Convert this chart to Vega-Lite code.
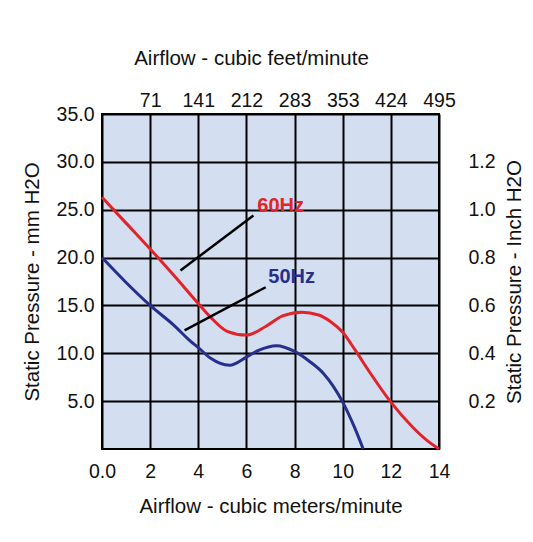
{
  "$schema": "https://vega.github.io/schema/vega-lite/v6.json",
  "width": 337,
  "height": 335,
  "autosize": "none",
  "padding": {"left": 102, "top": 114, "right": 94, "bottom": 93},
  "background": "white",
  "config": {
    "font": "Liberation Sans",
    "view": {"fill": "#d3dff0", "stroke": "black", "strokeWidth": 2},
    "axis": {
      "labelFont": "Liberation Sans",
      "titleFont": "Liberation Sans",
      "labelFontSize": 19.5,
      "titleFontSize": 20.5,
      "titleFontWeight": "normal",
      "labelColor": "#111111",
      "titleColor": "#111111",
      "ticks": false,
      "domain": false,
      "labelFlush": false
    }
  },
  "datasets": {
    "curves": [
      {"series": "60Hz", "airflow": 0, "pressure": 26.3},
      {"series": "60Hz", "airflow": 1, "pressure": 23.6},
      {"series": "60Hz", "airflow": 2, "pressure": 20.9},
      {"series": "60Hz", "airflow": 3, "pressure": 18.1},
      {"series": "60Hz", "airflow": 4, "pressure": 15.2},
      {"series": "60Hz", "airflow": 4.5, "pressure": 13.8},
      {"series": "60Hz", "airflow": 5.2, "pressure": 12.3},
      {"series": "60Hz", "airflow": 6, "pressure": 11.9},
      {"series": "60Hz", "airflow": 6.8, "pressure": 12.8},
      {"series": "60Hz", "airflow": 7.5, "pressure": 13.9},
      {"series": "60Hz", "airflow": 8.3, "pressure": 14.3},
      {"series": "60Hz", "airflow": 9, "pressure": 14.0},
      {"series": "60Hz", "airflow": 9.5, "pressure": 13.3},
      {"series": "60Hz", "airflow": 10, "pressure": 12.2},
      {"series": "60Hz", "airflow": 10.5, "pressure": 10.4},
      {"series": "60Hz", "airflow": 11.1, "pressure": 8.1},
      {"series": "60Hz", "airflow": 12, "pressure": 4.9},
      {"series": "60Hz", "airflow": 12.9, "pressure": 2.3},
      {"series": "60Hz", "airflow": 13.5, "pressure": 0.9},
      {"series": "60Hz", "airflow": 14, "pressure": 0},
      {"series": "50Hz", "airflow": 0, "pressure": 20},
      {"series": "50Hz", "airflow": 1, "pressure": 17.4},
      {"series": "50Hz", "airflow": 2, "pressure": 15},
      {"series": "50Hz", "airflow": 3, "pressure": 12.9},
      {"series": "50Hz", "airflow": 3.66, "pressure": 11.3},
      {"series": "50Hz", "airflow": 4, "pressure": 10.6},
      {"series": "50Hz", "airflow": 4.5, "pressure": 9.5},
      {"series": "50Hz", "airflow": 5.3, "pressure": 8.75},
      {"series": "50Hz", "airflow": 6, "pressure": 9.6},
      {"series": "50Hz", "airflow": 6.5, "pressure": 10.3},
      {"series": "50Hz", "airflow": 7.25, "pressure": 10.8},
      {"series": "50Hz", "airflow": 8, "pressure": 10.2},
      {"series": "50Hz", "airflow": 8.6, "pressure": 9.2},
      {"series": "50Hz", "airflow": 9.2, "pressure": 7.9},
      {"series": "50Hz", "airflow": 10, "pressure": 4.9},
      {"series": "50Hz", "airflow": 10.5, "pressure": 2.2},
      {"series": "50Hz", "airflow": 10.85, "pressure": 0}
    ],
    "leaders": [
      {"x": 3.26, "y": 18.65, "x2": 6.29, "y2": 24.4},
      {"x": 3.43, "y": 12.4, "x2": 6.8, "y2": 16.9}
    ],
    "labels": [
      {"label": "60Hz", "x": 6.45, "y": 25.4},
      {"label": "50Hz", "x": 6.91, "y": 18.0}
    ]
  },
  "layer": [
    {
      "data": {"name": "curves"},
      "mark": {"type": "line", "interpolate": "monotone", "strokeWidth": 3},
      "encoding": {
        "x": {
          "field": "airflow",
          "type": "quantitative",
          "scale": {"domain": [0, 14], "nice": false, "zero": false},
          "axis": {
            "orient": "bottom",
            "values": [0, 2, 4, 6, 8, 10, 12, 14],
            "labelExpr": "datum.value == 0 ? '0.0' : format(datum.value, 'd')",
            "grid": true,
            "gridColor": "black",
            "gridWidth": 2,
            "gridOpacity": 1,
            "labelPadding": 13,
            "title": "Airflow - cubic meters/minute",
            "titlePadding": 16
          }
        },
        "y": {
          "field": "pressure",
          "type": "quantitative",
          "scale": {"domain": [0, 35], "nice": false},
          "axis": {
            "orient": "left",
            "values": [5, 10, 15, 20, 25, 30, 35],
            "format": ".1f",
            "grid": true,
            "gridColor": "black",
            "gridWidth": 2,
            "gridOpacity": 1,
            "labelPadding": 8,
            "title": "Static Pressure - mm H2O",
            "titlePadding": 14
          }
        },
        "color": {
          "field": "series",
          "type": "nominal",
          "scale": {"domain": ["60Hz", "50Hz"], "range": ["#e2232a", "#262f8c"]},
          "legend": null
        }
      }
    },
    {
      "encoding": {
        "x": {
          "field": "x",
          "type": "quantitative",
          "scale": {"domain": [0, 14], "nice": false, "zero": false},
          "axis": {
            "orient": "top",
            "values": [2, 4, 6, 8, 10, 12, 14],
            "labelExpr": "['0','','71','','141','','212','','283','','353','','424','','495'][datum.value]",
            "grid": false,
            "labelPadding": 4,
            "labelDx": -5,
            "title": "Airflow - cubic feet/minute",
            "titleX": 149,
            "titlePadding": 22
          }
        },
        "y": {
          "field": "y",
          "type": "quantitative",
          "scale": {"domain": [0, 35], "nice": false},
          "axis": {
            "orient": "right",
            "values": [5, 10, 15, 20, 25, 30],
            "labelExpr": "format(datum.value / 25, '.1f')",
            "grid": false,
            "labelPadding": 29,
            "title": "Static Pressure - Inch H2O",
            "titleAngle": 270,
            "titleBaseline": "top",
            "titlePadding": 9
          }
        }
      },
      "layer": [
        {
          "data": {"name": "leaders"},
          "mark": {"type": "rule", "color": "black", "strokeWidth": 2.5},
          "encoding": {"x2": {"field": "x2"}, "y2": {"field": "y2"}}
        },
        {
          "data": {"name": "labels"},
          "mark": {"type": "text", "fontWeight": "bold", "fontSize": 20, "align": "left", "baseline": "middle"},
          "encoding": {
            "text": {"field": "label"},
            "color": {
              "field": "label",
              "type": "nominal",
              "scale": {"domain": ["60Hz", "50Hz"], "range": ["#e2232a", "#262f8c"]},
              "legend": null
            }
          }
        }
      ]
    }
  ],
  "resolve": {"scale": {"x": "independent", "y": "independent"}}
}
